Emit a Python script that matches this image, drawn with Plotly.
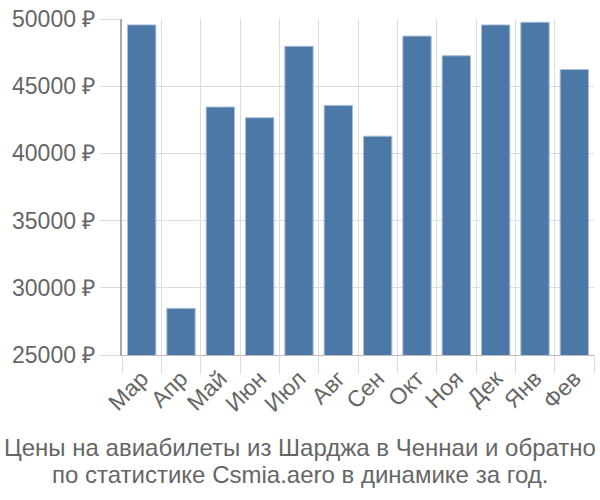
import plotly.graph_objects as go

months = ["Мар", "Апр", "Май", "Июн", "Июл", "Авг", "Сен", "Окт", "Ноя", "Дек", "Янв", "Фев"]
prices = [49560, 28470, 43450, 42650, 47970, 43570, 41280, 48730, 47265, 49560, 49760, 46240]
y_ticks = [25000, 30000, 35000, 40000, 45000, 50000]
title_lines = ["Цены на авиабилеты из Шарджа в Ченнаи и обратно",
               "по статистике Csmia.aero в динамике за год."]

font_family = "Liberation Sans, Arial, sans-serif"
text_color = "#666666"
grid_color = "#dddddd"

fig = go.Figure(go.Bar(
    x=months, y=prices,
    marker=dict(color="#4c78a8", line=dict(color="#a9bdd6", width=1)),
))

title_x = (300 - 122) / 472
annotations = []
for i, line in enumerate(title_lines):
    annotations.append(dict(
        text=line, xref="paper", yref="paper",
        x=title_x, y=0, yshift=-(92 + 27 * i), xanchor="center", yanchor="middle",
        showarrow=False, font=dict(size=24, color=text_color, family=font_family),
    ))

fig.update_layout(
    width=600, height=500,
    margin=dict(l=122, r=6, t=14, b=145),
    paper_bgcolor="white", plot_bgcolor="white",
    bargap=0.28,
    showlegend=False,
    font=dict(family=font_family, color=text_color, size=23),
    annotations=annotations,
)

fig.update_xaxes(
    tickson="boundaries", showgrid=True, gridcolor=grid_color, gridwidth=1,
    ticks="outside", ticklen=18, tickcolor=grid_color, tickwidth=1,
    tickangle=-45, tickfont=dict(size=23, color=text_color),
    showline=True, linecolor="#bbbbbb", linewidth=1,
)
fig.update_yaxes(
    range=[25000, 50000], tickvals=y_ticks, ticktext=[f"{v} ₽" for v in y_ticks],
    showgrid=True, gridcolor=grid_color, gridwidth=1,
    ticks="outside", ticklen=20, tickcolor=grid_color, tickwidth=1,
    tickfont=dict(size=23, color=text_color),
    showline=True, linecolor="#aaaaaa", linewidth=2, zeroline=False,
)

fig.write_html("out.html")
